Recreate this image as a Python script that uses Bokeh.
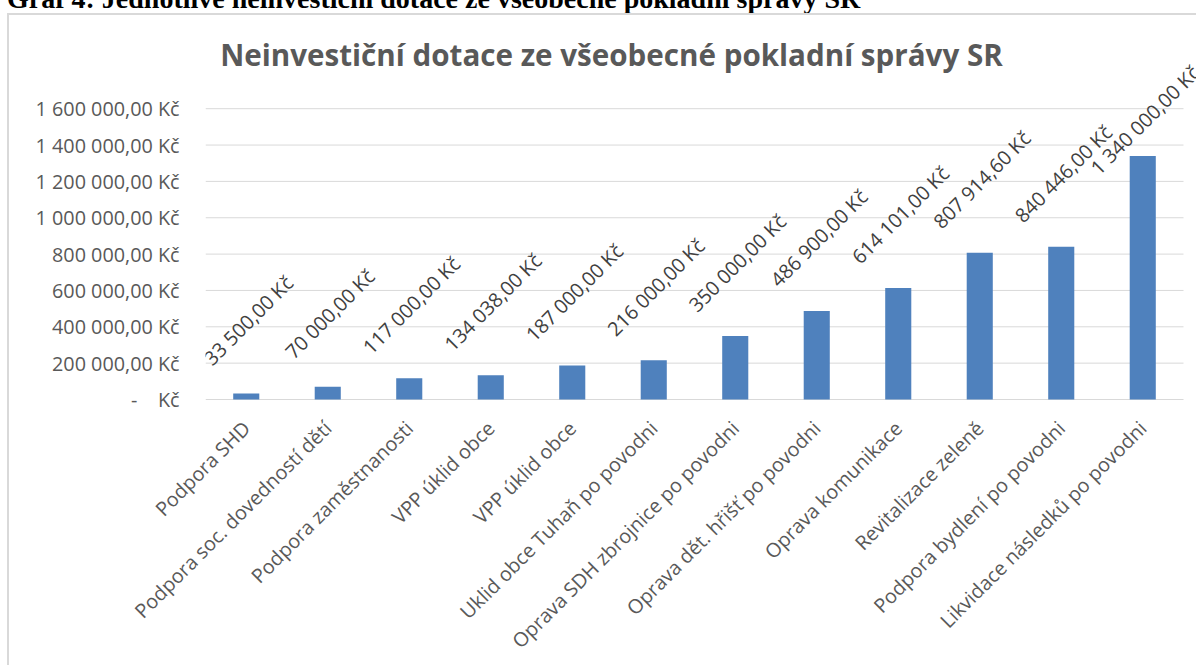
import math
from bokeh.plotting import figure
from bokeh.layouts import column
from bokeh.models import ColumnDataSource, LabelSet, Label, FixedTicker, Range1d, Div
from bokeh.core.properties import value
from bokeh.embed import file_html
from bokeh.resources import INLINE

# ---------------- data ----------------
categories = [
    "Podpora SHD",
    "Podpora soc. dovedností dětí",
    "Podpora zaměstnanosti",
    "VPP úklid obce",
    "VPP úklid obce",
    "Uklid obce Tuhaň po povodni",
    "Oprava SDH zbrojnice po povodni",
    "Oprava dět. hřišť po povodni",
    "Oprava komunikace",
    "Revitalizace zeleně",
    "Podpora bydlení po povodni",
    "Likvidace následků po povodni",
]
amounts = [33500.00, 70000.00, 117000.00, 134038.00, 187000.00, 216000.00,
           350000.00, 486900.00, 614101.00, 807914.60, 840446.00, 1340000.00]
amount_labels = ["33 500,00 Kč", "70 000,00 Kč", "117 000,00 Kč", "134 038,00 Kč",
                 "187 000,00 Kč", "216 000,00 Kč", "350 000,00 Kč", "486 900,00 Kč",
                 "614 101,00 Kč", "807 914,60 Kč", "840 446,00 Kč", "1 340 000,00 Kč"]
y_ticks = [0, 200000, 400000, 600000, 800000, 1000000, 1200000, 1400000, 1600000]
y_tick_labels = ["-\u00a0\u00a0\u00a0\u00a0Kč", "200 000,00 Kč", "400 000,00 Kč", "600 000,00 Kč",
                 "800 000,00 Kč", "1 000 000,00 Kč", "1 200 000,00 Kč", "1 400 000,00 Kč",
                 "1 600 000,00 Kč"]
heading = "Graf 4: Jednotlivé neinvestiční dotace ze všeobecné pokladní správy SR"
chart_title = "Neinvestiční dotace ze všeobecné pokladní správy SR"

# ---------------- styling / layout ----------------
label_lift = [73] * 11 + [36]          # px from bar top to data-label centre
FONT = "Open Sans"
GREY = "#595959"
FS = "19.8px"
W, H = 1189, 652                        # canvas size (page offset 9, 15 by border)
LEFT, BOTTOM = 196, 267                 # frame borders
AXIS_PX = 290.8                         # pixels from 0 to 1 600 000
PX_PER_CAT = 81.5

n = len(categories)
positions = list(range(1, n + 1))
frame_h = H - BOTTOM
frame_w = W - LEFT
y_top = max(y_ticks) * (frame_h - 1) / AXIS_PX
y_bot = -max(y_ticks) * 1 / AXIS_PX
x_end = 0.5 + frame_w / PX_PER_CAT

src = ColumnDataSource(dict(x=positions, top=amounts, text=amount_labels, lift=label_lift))

fig = figure(width=W, height=H, output_backend="svg", toolbar_location=None,
             x_range=Range1d(0.5, x_end), y_range=Range1d(y_bot, y_top),
             min_border_left=LEFT, min_border_right=0, min_border_top=0,
             min_border_bottom=BOTTOM)
fig.background_fill_color = "white"
fig.border_fill_color = "white"
fig.outline_line_color = None
fig.xgrid.grid_line_color = None
fig.ygrid.grid_line_color = None

# horizontal gridlines across the category span
fig.segment(x0=[0.5] * len(y_ticks), x1=[n + 0.5] * len(y_ticks), y0=y_ticks, y1=y_ticks,
            line_color="#d9d9d9", line_width=1)

fig.vbar(x="x", top="top", width=0.32, source=src, fill_color="#4F81BD", line_color=None)

# axes
fig.yaxis.ticker = FixedTicker(ticks=y_ticks)
fig.yaxis.major_label_overrides = {t: l for t, l in zip(y_ticks, y_tick_labels)}
fig.xaxis.ticker = FixedTicker(ticks=positions)
fig.xaxis.major_label_overrides = {i: c for i, c in zip(positions, categories)}
fig.xaxis.major_label_orientation = math.pi / 4
for ax in (fig.xaxis, fig.yaxis):
    ax.axis_line_color = None
    ax.major_tick_line_color = None
    ax.minor_tick_line_color = None
    ax.major_tick_out = 0
    ax.major_tick_in = 0
    ax.major_label_text_font = FONT
    ax.major_label_text_font_size = FS
    ax.major_label_text_color = GREY
fig.yaxis.major_label_standoff = 26
fig.xaxis.major_label_standoff = 24

labels = LabelSet(x="x", y="top", text="text", source=src, angle=math.pi / 4,
                  text_align="center", text_baseline="middle", x_offset=2, y_offset="lift",
                  text_font=value(FONT), text_font_size=FS, text_color="#404040")
fig.add_layout(labels)

fig.add_layout(Label(x=600, y=37, x_units="canvas", y_units="canvas", text=chart_title,
                     text_align="center", text_baseline="alphabetic", text_font=FONT,
                     text_font_style="bold", text_font_size="29.6px", text_color=GREY))

fig.margin = (0, 0, 0, 7)
fig.styles = {"border-left": "2px solid #d9d9d9", "border-top": "2px solid #d9d9d9"}

head = Div(text=('<div style="font-family:\'Liberation Serif\',serif;font-weight:bold;'
                 'font-size:28px;line-height:32px;white-space:nowrap;position:absolute;'
                 'top:-17px;left:7px;color:#000;">' + heading + '</div>'),
           width=1198, height=13, margin=(0, 0, 0, 0),
           styles={"overflow": "visible", "height": "13px"})

p = column(head, fig, spacing=0)

open("out.html", "w").write(file_html(p, INLINE))
